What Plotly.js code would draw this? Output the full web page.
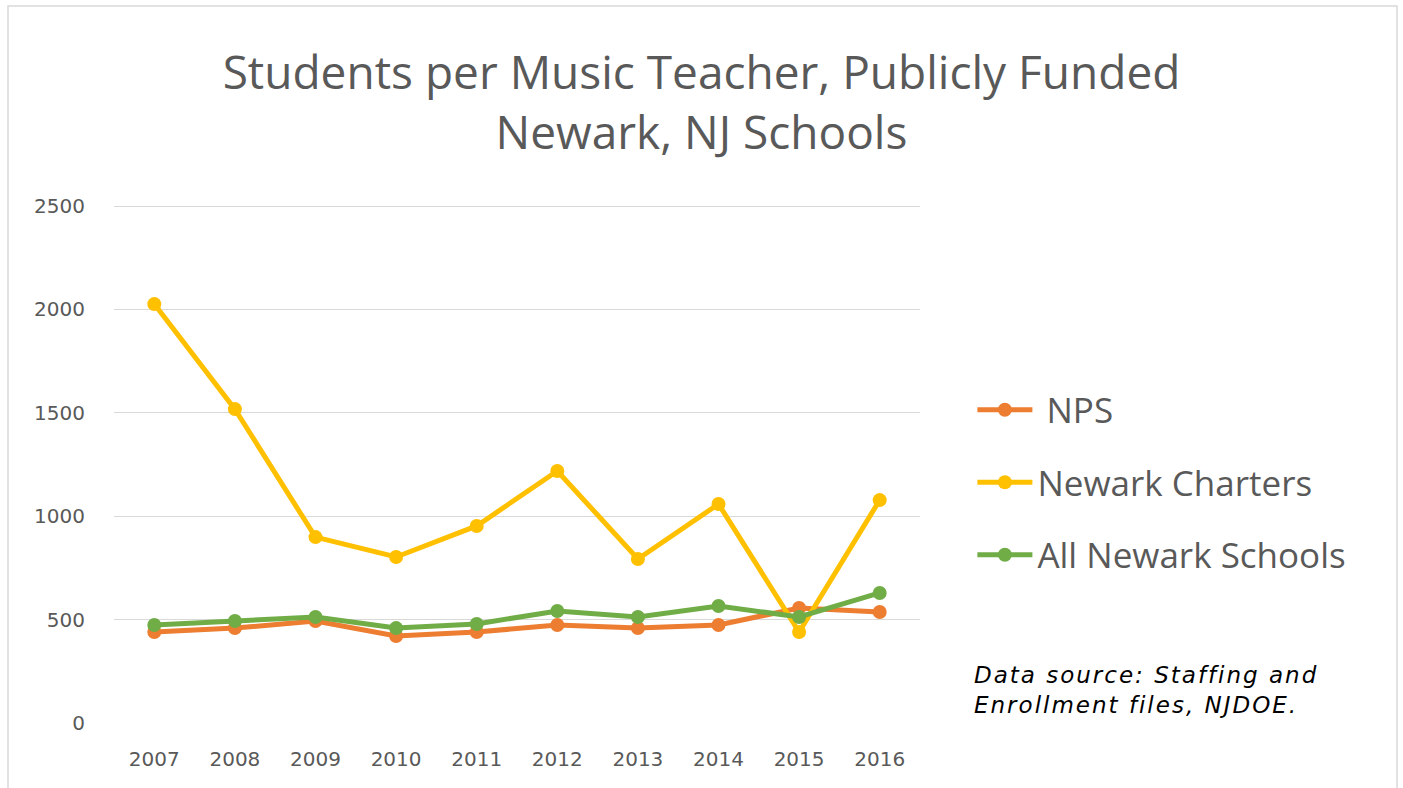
<!DOCTYPE html>
<html>
<head>
<meta charset="utf-8">
<script src="https://cdn.plot.ly/plotly-3.0.1.min.js"></script>
<style>
  html, body { margin: 0; padding: 0; background: #ffffff; }
  #chart { width: 1403px; height: 788px; }
  .annotation-text { letter-spacing: 2px; }
</style>
</head>
<body>
<div id="chart"></div>
<script>
const years = ['2007','2008','2009','2010','2011','2012','2013','2014','2015','2016'];
const npsValues = [440, 459, 493, 421, 440, 474, 459, 474, 556, 537];
const chartersValues = [2026, 1518, 899, 803, 953, 1219, 793, 1059, 440, 1078];
const allValues = [474, 493, 513, 459, 479, 542, 513, 566, 513, 629];
const yTicks = [0, 500, 1000, 1500, 2000, 2500];

const seriesNames = [' NPS', 'Newark Charters', 'All Newark Schools'];
const seriesColors = ['#ED7D31', '#FFC000', '#70AD47'];
const seriesData = [npsValues, chartersValues, allValues];

const traces = seriesData.map((vals, i) => ({
  type: 'scatter',
  mode: 'lines+markers',
  x: years,
  y: vals,
  name: seriesNames[i],
  legendgroup: 'g' + i,
  line: { color: seriesColors[i], width: 5 },
  marker: { color: seriesColors[i], size: 14 },
  hoverinfo: 'x+y+name'
}));

const layout = {
  width: 1403,
  height: 788,
  paper_bgcolor: '#ffffff',
  plot_bgcolor: '#ffffff',
  margin: { l: 114, r: 483, t: 204, b: 65 },
  title: {
    text: 'Students per Music Teacher, Publicly Funded<br>Newark, NJ Schools',
    font: { family: 'Open Sans, sans-serif', size: 46, color: '#595959' },
    x: 0.5, xref: 'container', xanchor: 'center',
    y: 0.887, yref: 'container', yanchor: 'middle'
  },
  xaxis: {
    type: 'category',
    range: [-0.5, 9.5],
    showgrid: false,
    showline: false,
    zeroline: false,
    ticks: '',
    ticklabelstandoff: 22,
    tickfont: { family: 'DejaVu Sans, sans-serif', size: 20, color: '#595959' }
  },
  yaxis: {
    range: [0, 2510],
    tickvals: yTicks,
    ticktext: yTicks.map(String),
    showgrid: true,
    gridcolor: '#d9d9d9',
    gridwidth: 1,
    zeroline: false,
    showline: false,
    ticks: '',
    ticklabelstandoff: 28,
    tickfont: { family: 'DejaVu Sans, sans-serif', size: 20, color: '#595959' }
  },
  legend: {
    x: 1.065, xanchor: 'left',
    y: 0.66, yanchor: 'top',
    font: { family: 'Open Sans, sans-serif', size: 35, color: '#595959' },
    tracegroupgap: 24,
    itemwidth: 55,
    bgcolor: 'rgba(0,0,0,0)'
  },
  showlegend: true,
  annotations: [{
    xref: 'paper', yref: 'paper',
    x: 1.065, xanchor: 'left',
    y: 0.064, yanchor: 'middle',
    align: 'left',
    showarrow: false,
    text: 'Data source: Staffing and<br>Enrollment files, NJDOE.',
    font: { family: 'DejaVu Sans, sans-serif', size: 23, color: '#000000', style: 'italic' }
  }],
  shapes: [{
    type: 'rect', xref: 'paper', yref: 'paper',
    x0: -0.1315, x1: 1.5918, y0: -0.16, y1: 1.3815,
    line: { color: '#d9d9d9', width: 1.5 },
    fillcolor: 'rgba(0,0,0,0)',
    layer: 'below'
  }]
};

Plotly.newPlot('chart', traces, layout, { displayModeBar: false, responsive: false });
</script>
</body>
</html>
